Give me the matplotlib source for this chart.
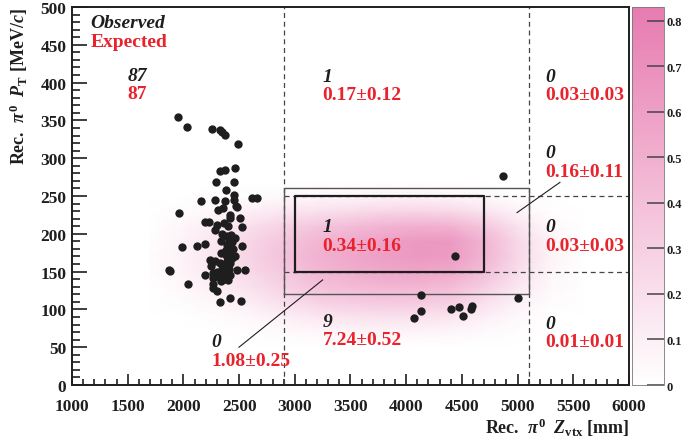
import numpy as np
import matplotlib
matplotlib.use("Agg")
import matplotlib.pyplot as plt
from matplotlib.colors import LinearSegmentedColormap

plt.rcParams["font.family"] = ["Liberation Serif", "DejaVu Serif"]
plt.rcParams["font.weight"] = "bold"
plt.rcParams["axes.labelweight"] = "bold"
plt.rcParams["mathtext.fontset"] = "custom"
plt.rcParams["mathtext.rm"] = "Liberation Serif:bold"
plt.rcParams["mathtext.it"] = "Liberation Serif:bold:italic"
plt.rcParams["mathtext.bf"] = "Liberation Serif:bold"

# observed events (Z_vtx [mm], P_T [MeV/c])
obs_z = [1949, 2032, 2257, 2329, 2349, 2370, 2493, 2326, 2370, 2463,
         2296, 2451, 2379, 2158, 2287, 2376, 2451, 2451, 2619, 2658,
         1961, 2307, 2358, 2472, 2484, 2418, 2511, 2191, 2233, 2304,
         2367, 2398, 2526, 1990, 2125, 2194, 2394, 2427, 2406, 2436,
         2412, 2442, 2529, 2335, 2382, 2430, 2466, 2239, 2284, 2329,
         2389, 2418, 1868, 1880, 2197, 2263, 2344, 2406, 2409, 2484,
         2553, 2263, 2338, 2421, 2376, 2268, 2335, 2398, 2268, 2038,
         2331, 2415, 2517, 2340, 2380, 2360, 2300, 2440, 2395, 2280,
         2350, 2420, 2300, 2330, 2460, 2250, 2390,
         4869, 4438, 4130, 4133, 4067, 4399, 4474, 4513, 4582, 4591, 5004]
obs_pt = [355, 341, 339, 337, 334, 331, 319, 283, 285, 287,
          268, 269, 258, 244, 245, 243, 251, 245, 247, 248,
          228, 232, 234, 237, 235, 221, 221, 216, 216, 211,
          214, 210, 209, 183, 184, 186, 197, 199, 191, 189,
          182, 180, 184, 175, 172, 174, 171, 166, 164, 162,
          164, 161, 152, 151, 145, 148, 154, 160, 153, 152,
          152, 142, 148, 146, 140, 134, 138, 139, 128, 134,
          110, 115, 111, 190, 178, 158, 150, 168, 185, 205,
          200, 225, 125, 142, 195, 157, 150,
          276, 171, 119, 98, 89, 100, 103, 91, 100, 105, 115]

# expected signal density
dens_z = [1700, 2000, 2300, 2600, 2900, 3200, 3500, 3800, 4100, 4400, 4700, 5000, 5300, 5600]
dens_pt = [50, 70, 90, 110, 130, 150, 170, 190, 210, 230, 250, 270]
dens = [
    [0, 0, 0, 0, 0, 0, 0, 0, 0, 0, 0, 0, 0, 0],
    [0, 0, 0, 0.01, 0.03, 0.05, 0.06, 0.07, 0.07, 0.06, 0.03, 0.01, 0, 0],
    [0, 0, 0.02, 0.05, 0.10, 0.15, 0.18, 0.19, 0.19, 0.16, 0.10, 0.04, 0, 0],
    [0, 0.02, 0.06, 0.12, 0.20, 0.28, 0.32, 0.34, 0.34, 0.30, 0.20, 0.09, 0.02, 0],
    [0, 0.05, 0.11, 0.19, 0.29, 0.38, 0.43, 0.46, 0.46, 0.42, 0.31, 0.15, 0.04, 0],
    [0.01, 0.07, 0.15, 0.24, 0.35, 0.45, 0.51, 0.55, 0.57, 0.54, 0.41, 0.21, 0.06, 0],
    [0.02, 0.08, 0.17, 0.27, 0.38, 0.48, 0.55, 0.60, 0.64, 0.62, 0.47, 0.25, 0.07, 0],
    [0.01, 0.08, 0.16, 0.26, 0.36, 0.46, 0.53, 0.59, 0.64, 0.64, 0.47, 0.25, 0.07, 0],
    [0, 0.06, 0.12, 0.20, 0.28, 0.36, 0.42, 0.47, 0.50, 0.48, 0.36, 0.18, 0.04, 0],
    [0, 0.02, 0.06, 0.10, 0.15, 0.19, 0.22, 0.25, 0.26, 0.24, 0.17, 0.07, 0.01, 0],
    [0, 0, 0.01, 0.02, 0.04, 0.05, 0.06, 0.07, 0.07, 0.06, 0.04, 0.01, 0, 0],
    [0, 0, 0, 0, 0, 0, 0, 0, 0, 0, 0, 0, 0, 0],
]

# region labels: (z, pt, observed, expected)
reg_z = [1500, 3250, 5250, 5250, 3250, 5250, 3250, 5250, 2250]
reg_pt = [397, 396, 396, 295, 197, 197, 72, 70, 45]
reg_obs = ["87", "1", "0", "0", "1", "0", "9", "0", "0"]
reg_exp = ["87", "0.17\u00b10.12", "0.03\u00b10.03", "0.16\u00b10.11", "0.34\u00b10.16",
           "0.03\u00b10.03", "7.24\u00b10.52", "0.01\u00b10.01", "1.08\u00b10.25"]

RED = "#e8232c"
INK = "#1e1e1e"

fig = plt.figure(figsize=(6.83, 4.39), dpi=100)
ax = fig.add_axes([0.1054, 0.1207, 0.8155, 0.8611])
cax = fig.add_axes([0.9253, 0.1207, 0.0469, 0.8611])

cmap = LinearSegmentedColormap.from_list("pinks", ["#ffffff", "#e77bb0"])
mesh = ax.pcolormesh(dens_z, dens_pt, np.array(dens), cmap=cmap, vmin=0, vmax=0.83,
                     shading="gouraud", zorder=1)

# dashed region boundaries
for z in [2900, 5100]:
    ax.plot([z, z], [0, 500], ls=(0, (4, 3)), lw=0.9, color="#444444", zorder=2)
for pt in [150, 250]:
    ax.plot([2900, 6000], [pt, pt], ls=(0, (4, 3)), lw=0.9, color="#444444", zorder=2)

# outer and inner (signal) boxes
ax.plot([2900, 5100, 5100, 2900, 2900], [120, 120, 260, 260, 120], color="#555555", lw=1.0, zorder=3)
ax.plot([3000, 4700, 4700, 3000, 3000], [150, 150, 250, 250, 150], color=INK, lw=1.6, zorder=3)

ax.scatter(obs_z, obs_pt, s=36, color=INK, linewidths=0, zorder=4)

# leader lines
ax.plot([2499, 3250], [50, 139], color=INK, lw=0.8, zorder=3)
ax.plot([5380, 4995], [268, 228], color=INK, lw=0.8, zorder=3)

for z, pt, o, e in zip(reg_z, reg_pt, reg_obs, reg_exp):
    ax.text(z, pt + 12, o, color=INK, fontsize=14, style="italic", fontweight="bold",
            ha="left", va="center", zorder=5)
    ax.text(z, pt - 12, e, color=RED, fontsize=14, fontweight="bold",
            ha="left", va="center", zorder=5)

ax.text(1168, 480, "Observed", color=INK, fontsize=14, style="italic", fontweight="bold",
        ha="left", va="center")
ax.text(1168, 455, "Expected", color=RED, fontsize=14, fontweight="bold",
        ha="left", va="center")

ax.set_xlim(1000, 6000)
ax.set_ylim(0, 500)
ax.set_xticks(np.arange(1000, 6001, 500))
ax.set_xticks(np.arange(1000, 6001, 100), minor=True)
ax.set_yticks(np.arange(0, 501, 50))
ax.set_yticks(np.arange(0, 501, 10), minor=True)
ax.tick_params(axis="both", which="both", direction="in", width=1.2, color=INK,
               labelsize=12.5, labelcolor=INK, top=False, right=False)
ax.tick_params(axis="x", which="major", length=8, pad=9)
ax.tick_params(axis="x", which="minor", length=4)
ax.tick_params(axis="y", which="major", length=11, pad=4)
ax.tick_params(axis="y", which="minor", length=6)
for sp in ax.spines.values():
    sp.set_linewidth(1.4)
    sp.set_color(INK)

ax.set_xlabel(r"Rec.  $\pi^{0}$  $Z_{\mathrm{vtx}}$ [mm]", loc="right", fontsize=13, color=INK)
ax.xaxis.set_label_coords(1.0, -0.082)
ax.set_ylabel(r"Rec.  $\pi^{0}$  $P_{\mathrm{T}}$ [MeV/$c$]", loc="top", fontsize=13, color=INK)
ax.yaxis.set_label_coords(-0.075, 1.0)

cb = fig.colorbar(mesh, cax=cax)
cb.set_ticks(np.arange(0, 0.81, 0.1))
cb.set_ticklabels(["0", "0.1", "0.2", "0.3", "0.4", "0.5", "0.6", "0.7", "0.8"])
cax.tick_params(direction="in", length=12, width=1.1, color="#444444", labelsize=9,
                labelcolor=INK, pad=2)
cb.outline.set_linewidth(0.6)
cb.outline.set_edgecolor("#777777")

fig.savefig("out.png", dpi=100)
